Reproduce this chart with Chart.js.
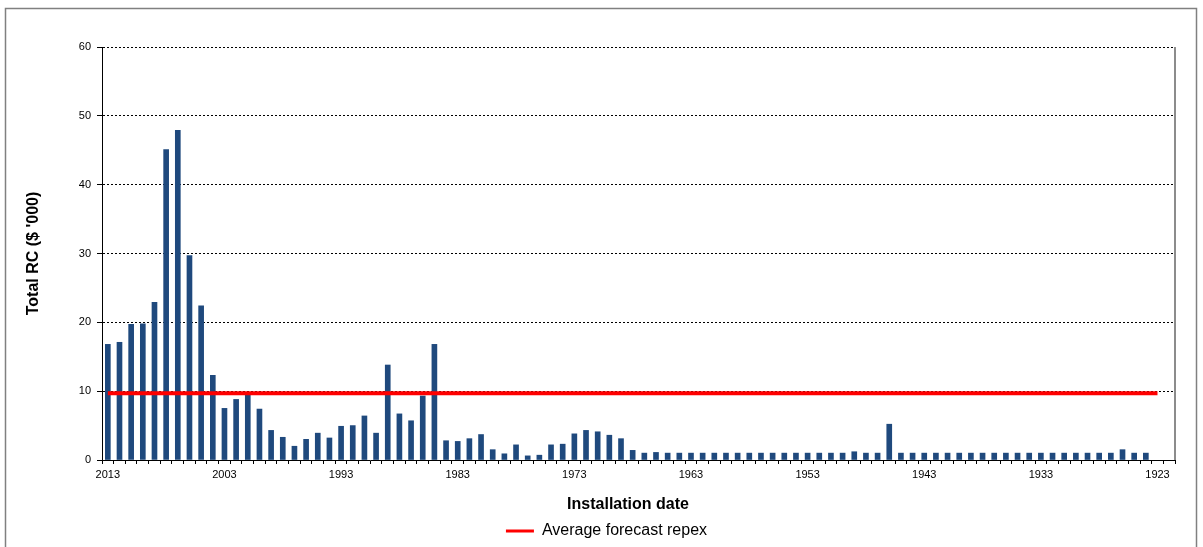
<!DOCTYPE html>
<html>
<head>
<meta charset="utf-8">
<title>Total RC by installation date</title>
<script src="https://cdn.jsdelivr.net/npm/chart.js@4.4.1/dist/chart.umd.min.js"></script>
<style>
  html, body { margin: 0; padding: 0; background: #ffffff; }
  #wrap { width: 1203px; height: 547px; position: relative; }
</style>
</head>
<body>
<div id="wrap"><canvas id="chart" width="1203" height="547"></canvas></div>
<script>
// Installation years, newest first (2013 back to 1922)
const years = Array.from({ length: 92 }, (_, i) => String(2013 - i));

// Years that carry an axis label
const labelYears = ['2013', '2003', '1993', '1983', '1973', '1963', '1953', '1943', '1933', '1923'];

// Total replacement cost ($ '000) per installation year
const rcValues = [
  16.8, 17.1, 19.7, 19.8, 22.9, 45.1, 47.9, 29.7, 22.4, 12.3, // 2013-2004
  7.5, 8.8, 9.8, 7.4, 4.3, 3.3, 2.0, 3.0, 3.9, 3.2,           // 2003-1994
  4.9, 5.0, 6.4, 3.9, 13.8, 6.7, 5.7, 9.3, 16.8, 2.8,         // 1993-1984
  2.7, 3.1, 3.7, 1.5, 0.9, 2.2, 0.6, 0.7, 2.2, 2.3,           // 1983-1974
  3.8, 4.3, 4.1, 3.6, 3.1, 1.4, 1.0, 1.1, 1.0, 1.0,           // 1973-1964
  1.0, 1.0, 1.0, 1.0, 1.0, 1.0, 1.0, 1.0, 1.0, 1.0,           // 1963-1954
  1.0, 1.0, 1.0, 1.0, 1.2, 1.0, 1.0, 5.2, 1.0, 1.0,           // 1953-1944
  1.0, 1.0, 1.0, 1.0, 1.0, 1.0, 1.0, 1.0, 1.0, 1.0,           // 1943-1934
  1.0, 1.0, 1.0, 1.0, 1.0, 1.0, 1.0, 1.5, 1.0, 1.0,           // 1933-1924
  null, null                                                  // 1923-1922
];

// Average forecast replacement expenditure ($ '000), shown from 2013 to 1923
const averageRepex = 9.7;
const repexFirstYear = 2013;
const repexLastYear = 1923;
const repexValues = years.map(y => (Number(y) <= repexFirstYear && Number(y) >= repexLastYear) ? averageRepex : null);

// Value axis ticks
const yTicks = [0, 10, 20, 30, 40, 50, 60];

const FONT = "'Liberation Sans', Arial, sans-serif";

// Outer frame around the whole chart and the right edge of the plot area
const framePlugin = {
  id: 'frame',
  beforeDraw(chart) {
    const ctx = chart.ctx;
    ctx.save();
    ctx.fillStyle = '#ffffff';
    ctx.fillRect(0, 0, chart.width, chart.height);
    ctx.strokeStyle = '#808080';
    ctx.lineWidth = 1.5;
    ctx.strokeRect(5.5, 8.5, 1191, 600);
    ctx.restore();
  },
  beforeDatasetsDraw(chart) {
    const { ctx, chartArea } = chart;
    ctx.save();
    ctx.strokeStyle = '#8c8c8c';
    ctx.lineWidth = 2;
    ctx.beginPath();
    ctx.moveTo(chartArea.right, chartArea.top);
    ctx.lineTo(chartArea.right, chartArea.bottom);
    ctx.stroke();
    ctx.restore();
  }
};

// Nudge the legend row and the category-axis caption to their report positions
const captionShift = {
  id: 'captionShift',
  afterLayout(chart) {
    if (chart.legend) {
      chart.legend.left += 19;
      chart.legend.right += 19;
    }
    const xs = chart.scales.x;
    if (xs && !xs._captionWrapped) {
      const drawTitle = xs.drawTitle.bind(xs);
      xs.drawTitle = function () {
        this.left -= 21;
        drawTitle();
        this.left += 21;
      };
      xs._captionWrapped = true;
    }
  }
};

new Chart(document.getElementById('chart'), {
  data: {
    labels: years,
    datasets: [
      {
        type: 'line',
        label: 'Average forecast repex',
        data: repexValues,
        borderColor: '#ff0000',
        backgroundColor: '#ff0000',
        borderWidth: 4,
        pointRadius: 0,
        pointHoverRadius: 0,
        pointStyle: 'line',
        tension: 0,
        spanGaps: false,
        order: 0
      },
      {
        type: 'bar',
        label: 'Total RC',
        data: rcValues,
        backgroundColor: '#1f497d',
        borderWidth: 0,
        barThickness: 5,
        order: 1
      }
    ]
  },
  options: {
    responsive: false,
    animation: false,
    devicePixelRatio: 1,
    layout: { padding: { left: 0, right: 28, top: 47, bottom: -2 } },
    plugins: {
      tooltip: { enabled: false },
      legend: {
        display: true,
        position: 'bottom',
        labels: {
          usePointStyle: true,
          pointStyle: 'line',
          pointStyleWidth: 28,
          padding: 6,
          color: '#000000',
          font: { family: FONT, size: 16 },
          generateLabels(chart) {
            return Chart.defaults.plugins.legend.labels.generateLabels(chart)
              .filter(item => item.datasetIndex === 0)
              .map(item => Object.assign(item, { lineWidth: 3, strokeStyle: '#ff0000', pointStyle: 'line' }));
          }
        }
      }
    },
    scales: {
      x: {
        type: 'category',
        offset: true,
        grid: {
          offset: true,
          drawOnChartArea: false,
          drawTicks: true,
          tickLength: 4,
          color: '#000000'
        },
        border: { display: true, color: '#000000', width: 1 },
        ticks: {
          autoSkip: false,
          maxRotation: 0,
          minRotation: 0,
          padding: 4,
          color: '#000000',
          font: { family: FONT, size: 11 },
          callback(value, index) {
            const label = years[index];
            return labelYears.includes(label) ? label : '';
          }
        },
        title: {
          display: true,
          text: 'Installation date',
          color: '#000000',
          font: { family: FONT, size: 16, weight: 'bold' },
          padding: { top: 0, bottom: 3 }
        },
        afterFit(scale) { scale.height = 57; }
      },
      y: {
        type: 'linear',
        min: 0,
        max: 60,
        grid: {
          color: '#000000',
          lineWidth: 1,
          tickBorderDash: [],
          tickLength: 5,
          drawTicks: true
        },
        border: { display: true, color: '#000000', width: 1, dash: [2, 2] },
        ticks: {
          padding: 6,
          color: '#000000',
          font: { family: FONT, size: 11 }
        },
        afterBuildTicks(scale) {
          scale.ticks = yTicks.map(v => ({ value: v }));
        },
        title: {
          display: true,
          text: "Total RC ($ '000)",
          color: '#000000',
          font: { family: FONT, size: 16, weight: 'bold' },
          padding: { top: 24, bottom: 0 }
        },
        afterFit(scale) { scale.width = 102; }
      }
    }
  },
  plugins: [framePlugin, captionShift]
});
</script>
</body>
</html>
